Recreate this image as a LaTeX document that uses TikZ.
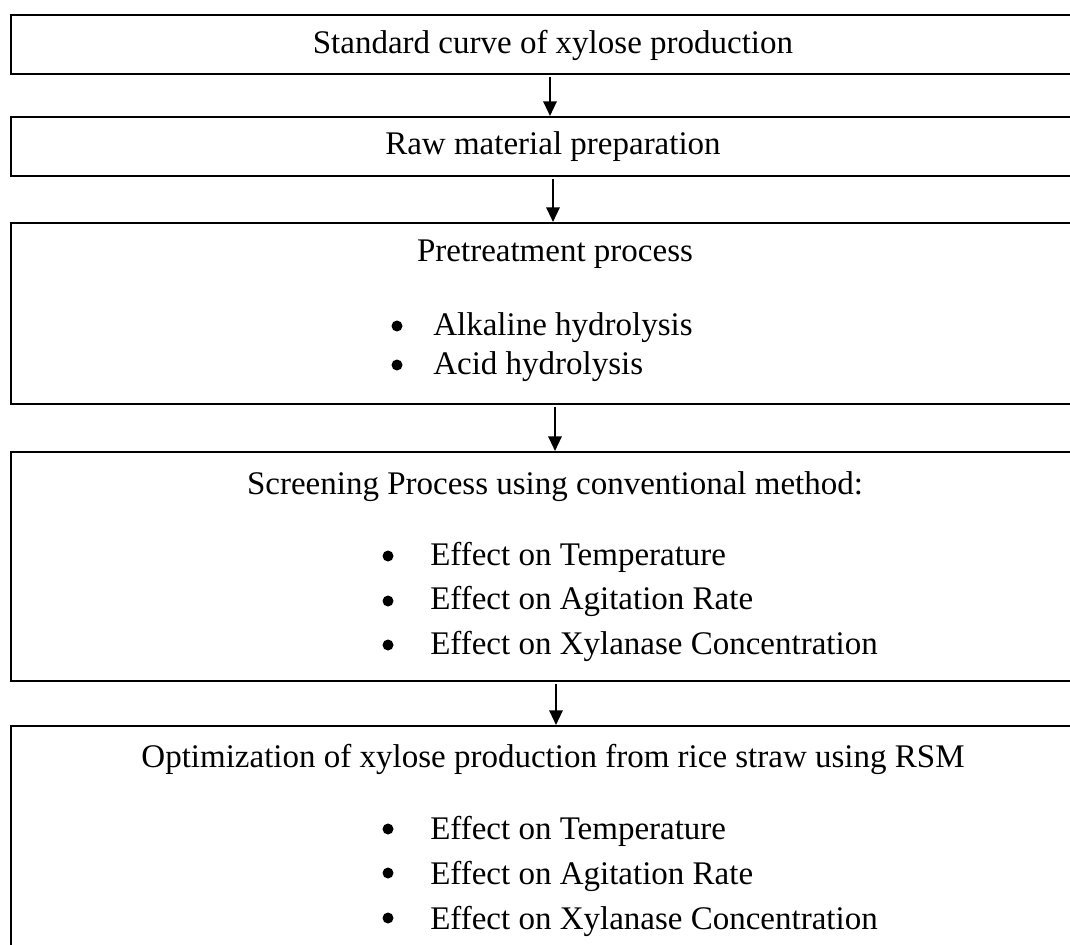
\documentclass[tikz,border=0pt]{standalone}
\usepackage{fontspec}
\setmainfont{Liberation Serif}
\usetikzlibrary{arrows.meta}
\begin{document}
\begin{tikzpicture}[x=0.75pt,y=-0.75pt,
  stagebox/.style={draw=black, line width=1.6pt, minimum width=798.75pt, inner sep=0pt, anchor=north west},
  title/.style={anchor=base, inner sep=0pt, font=\fontsize{24.75}{30}\selectfont},
  item/.style={anchor=base west, inner sep=0pt, font=\fontsize{24.75}{30}\selectfont},
  arr/.style={line width=1.6pt, -{Triangle[length=11pt,width=10pt]}, shorten <=1.5pt},
  dot/.style={fill=black}
]
\useasboundingbox (0,0) rectangle (1070,945);
\begin{scope}
\clip (0,0) rectangle (1070,945);
\node[stagebox, minimum height=44.25pt] (b1) at (10,14) {};
\node[stagebox, minimum height=44.25pt] (b2) at (10,116) {};
\node[stagebox, minimum height=135.75pt] (b3) at (10,222) {};
\node[stagebox, minimum height=171.75pt] (b4) at (10,451) {};
\node[stagebox, minimum height=180pt] (b5) at (10,725) {};
\end{scope}

\node[title] (t1) at (553,54) {Standard curve of xylose production};
\node[title] (t2) at (553,155) {Raw material preparation};
\node[title] (t3) at (555,261) {Pretreatment process};
\node[item] (t3a) at (433,335) {Alkaline hydrolysis};
\node[item] (t3b) at (433,374) {Acid hydrolysis};
\fill[dot] (397,326) circle (5.5);
\fill[dot] (397,365) circle (5.5);

\node[title] (t4) at (555,494) {Screening Process using conventional method:};
\node[item] (t4a) at (430,565) {Effect on Temperature};
\node[item] (t4b) at (430,609) {Effect on Agitation Rate};
\node[item] (t4c) at (430,654) {Effect on Xylanase Concentration};
\fill[dot] (388,556) circle (5.5);
\fill[dot] (388,601) circle (5.5);
\fill[dot] (388,645) circle (5.5);

\node[title] (t5) at (553,767) {Optimization of xylose production from rice straw using RSM};
\node[item] (t5a) at (430,839) {Effect on Temperature};
\node[item] (t5b) at (430,884) {Effect on Agitation Rate};
\node[item] (t5c) at (430,929) {Effect on Xylanase Concentration};
\fill[dot] (388,829) circle (5.5);
\fill[dot] (388,873) circle (5.5);
\fill[dot] (388,918) circle (5.5);

\draw[arr] (b1.south -| 550,0) -- (b2.north -| 550,0);
\draw[arr] (b2.south -| 553,0) -- (b3.north -| 553,0);
\draw[arr] (b3.south -| 555,0) -- (b4.north -| 555,0);
\draw[arr] (b4.south -| 556,0) -- (b5.north -| 556,0);
\end{tikzpicture}
\end{document}
